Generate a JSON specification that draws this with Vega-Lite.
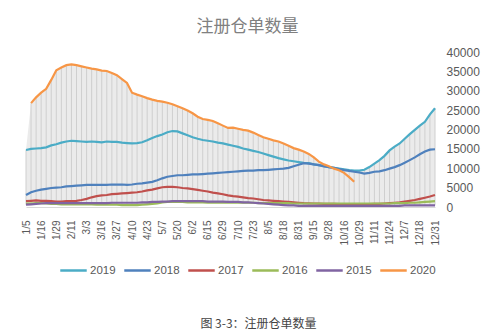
{
  "$schema": "https://vega.github.io/schema/vega-lite/v6.json",
  "width": 409,
  "height": 155,
  "autosize": {"type": "none"},
  "padding": {"left": 26, "top": 52, "right": 65, "bottom": 129},
  "background": "white",
  "config": {"view": {"stroke": null}, "axisY": {"labelOverlap": false}},
  "title": {"text": "注册仓单数量", "font": "Noto Sans CJK SC", "fontSize": 17, "fontWeight": "normal", "color": "#808080", "anchor": "middle", "dx": 17, "offset": 10},
  "data": {"values": [
    {"d":"1/5","2019":14700,"2018":3100,"2017":1500,"2016":900,"2015":600,"2020":null},
    {"d":"1/8","2019":15000,"2018":3800,"2017":1600,"2016":900,"2015":700,"2020":26800},
    {"d":"1/12","2019":15100,"2018":4200,"2017":1700,"2016":1000,"2015":800,"2020":28300},
    {"d":"1/16","2019":15200,"2018":4500,"2017":1600,"2016":1000,"2015":900,"2020":29500},
    {"d":"1/20","2019":15400,"2018":4700,"2017":1600,"2016":900,"2015":1000,"2020":30500},
    {"d":"1/24","2019":15900,"2018":4900,"2017":1500,"2016":800,"2015":1000,"2020":32800},
    {"d":"1/29","2019":16200,"2018":5000,"2017":1400,"2016":800,"2015":1000,"2020":35300},
    {"d":"2/2","2019":16600,"2018":5100,"2017":1400,"2016":700,"2015":1000,"2020":36000},
    {"d":"2/6","2019":16900,"2018":5300,"2017":1500,"2016":700,"2015":1000,"2020":36600},
    {"d":"2/11","2019":17100,"2018":5400,"2017":1500,"2016":700,"2015":1000,"2020":36800},
    {"d":"2/18","2019":17000,"2018":5500,"2017":1600,"2016":700,"2015":1000,"2020":36600},
    {"d":"2/25","2019":16900,"2018":5600,"2017":1800,"2016":700,"2015":1000,"2020":36300},
    {"d":"3/3","2019":16800,"2018":5700,"2017":2100,"2016":700,"2015":1000,"2020":36000},
    {"d":"3/7","2019":16900,"2018":5700,"2017":2500,"2016":700,"2015":1000,"2020":35700},
    {"d":"3/11","2019":16800,"2018":5700,"2017":2800,"2016":600,"2015":1000,"2020":35500},
    {"d":"3/16","2019":16700,"2018":5700,"2017":3000,"2016":600,"2015":1000,"2020":35200},
    {"d":"3/19","2019":16900,"2018":5700,"2017":3100,"2016":600,"2015":1000,"2020":35100},
    {"d":"3/23","2019":16800,"2018":5800,"2017":3300,"2016":600,"2015":1100,"2020":34600},
    {"d":"3/27","2019":16800,"2018":5800,"2017":3400,"2016":600,"2015":1100,"2020":34000},
    {"d":"3/31","2019":16600,"2018":5800,"2017":3500,"2016":500,"2015":1100,"2020":33000},
    {"d":"4/6","2019":16500,"2018":5700,"2017":3600,"2016":500,"2015":1100,"2020":32000},
    {"d":"4/10","2019":16400,"2018":5800,"2017":3700,"2016":500,"2015":1100,"2020":29500},
    {"d":"4/15","2019":16500,"2018":6000,"2017":3800,"2016":500,"2015":1100,"2020":29000},
    {"d":"4/19","2019":16700,"2018":6100,"2017":4000,"2016":600,"2015":1200,"2020":28600},
    {"d":"4/23","2019":17200,"2018":6300,"2017":4300,"2016":700,"2015":1200,"2020":28100},
    {"d":"4/27","2019":17800,"2018":6500,"2017":4500,"2016":800,"2015":1300,"2020":27700},
    {"d":"5/2","2019":18300,"2018":6900,"2017":4800,"2016":900,"2015":1300,"2020":27400},
    {"d":"5/7","2019":18700,"2018":7400,"2017":5100,"2016":1200,"2015":1400,"2020":27200},
    {"d":"5/11","2019":19300,"2018":7800,"2017":5200,"2016":1300,"2015":1400,"2020":26900},
    {"d":"5/15","2019":19600,"2018":8000,"2017":5200,"2016":1300,"2015":1500,"2020":26500},
    {"d":"5/20","2019":19500,"2018":8200,"2017":5100,"2016":1300,"2015":1500,"2020":26000},
    {"d":"5/24","2019":19000,"2018":8200,"2017":4900,"2016":1300,"2015":1500,"2020":25500},
    {"d":"5/28","2019":18500,"2018":8300,"2017":4800,"2016":1200,"2015":1500,"2020":24900},
    {"d":"6/2","2019":18000,"2018":8400,"2017":4600,"2016":1200,"2015":1500,"2020":24200},
    {"d":"6/6","2019":17600,"2018":8400,"2017":4400,"2016":1200,"2015":1500,"2020":23300},
    {"d":"6/10","2019":17300,"2018":8500,"2017":4200,"2016":1200,"2015":1500,"2020":22700},
    {"d":"6/15","2019":17100,"2018":8600,"2017":4000,"2016":1100,"2015":1400,"2020":22500},
    {"d":"6/20","2019":16900,"2018":8700,"2017":3700,"2016":1100,"2015":1400,"2020":22200},
    {"d":"6/24","2019":16600,"2018":8800,"2017":3500,"2016":1100,"2015":1400,"2020":21600},
    {"d":"6/29","2019":16400,"2018":8900,"2017":3300,"2016":1100,"2015":1400,"2020":21000},
    {"d":"7/2","2019":16100,"2018":9000,"2017":3000,"2016":1100,"2015":1300,"2020":20400},
    {"d":"7/6","2019":15800,"2018":9100,"2017":2800,"2016":1100,"2015":1300,"2020":20500},
    {"d":"7/10","2019":15500,"2018":9200,"2017":2700,"2016":1100,"2015":1300,"2020":20200},
    {"d":"7/14","2019":15100,"2018":9300,"2017":2500,"2016":1100,"2015":1200,"2020":19900},
    {"d":"7/18","2019":14800,"2018":9400,"2017":2300,"2016":1100,"2015":1200,"2020":19700},
    {"d":"7/23","2019":14500,"2018":9400,"2017":2200,"2016":1100,"2015":1100,"2020":19200},
    {"d":"7/27","2019":14200,"2018":9500,"2017":2000,"2016":1000,"2015":1000,"2020":18600},
    {"d":"7/31","2019":13800,"2018":9500,"2017":1800,"2016":1000,"2015":900,"2020":18000},
    {"d":"8/5","2019":13400,"2018":9600,"2017":1700,"2016":1000,"2015":800,"2020":17600},
    {"d":"8/9","2019":13000,"2018":9700,"2017":1600,"2016":1000,"2015":700,"2020":17200},
    {"d":"8/13","2019":12600,"2018":9800,"2017":1500,"2016":1000,"2015":600,"2020":16900},
    {"d":"8/18","2019":12300,"2018":9900,"2017":1400,"2016":1000,"2015":500,"2020":16400},
    {"d":"8/22","2019":12000,"2018":10100,"2017":1300,"2016":1000,"2015":400,"2020":15800},
    {"d":"8/26","2019":11800,"2018":10500,"2017":1200,"2016":900,"2015":400,"2020":15200},
    {"d":"8/31","2019":11600,"2018":10900,"2017":1100,"2016":900,"2015":300,"2020":14800},
    {"d":"9/5","2019":11400,"2018":11300,"2017":1000,"2016":900,"2015":300,"2020":14300},
    {"d":"9/10","2019":11300,"2018":11200,"2017":950,"2016":900,"2015":300,"2020":13700},
    {"d":"9/15","2019":11000,"2018":11000,"2017":900,"2016":900,"2015":300,"2020":12800},
    {"d":"9/19","2019":10800,"2018":10800,"2017":850,"2016":900,"2015":300,"2020":11700},
    {"d":"9/23","2019":10600,"2018":10500,"2017":800,"2016":900,"2015":300,"2020":11000},
    {"d":"9/28","2019":10300,"2018":10300,"2017":800,"2016":900,"2015":300,"2020":10500},
    {"d":"10/8","2019":10100,"2018":10100,"2017":800,"2016":900,"2015":300,"2020":9900},
    {"d":"10/12","2019":9900,"2018":9800,"2017":750,"2016":900,"2015":300,"2020":9500},
    {"d":"10/16","2019":9700,"2018":9500,"2017":700,"2016":900,"2015":300,"2020":8800},
    {"d":"10/20","2019":9500,"2018":9300,"2017":700,"2016":900,"2015":300,"2020":7700},
    {"d":"10/24","2019":9400,"2018":9100,"2017":700,"2016":900,"2015":300,"2020":6500},
    {"d":"10/29","2019":9400,"2018":8900,"2017":700,"2016":900,"2015":300,"2020":null},
    {"d":"11/2","2019":9600,"2018":8600,"2017":700,"2016":900,"2015":300,"2020":null},
    {"d":"11/6","2019":10300,"2018":8800,"2017":750,"2016":900,"2015":300,"2020":null},
    {"d":"11/11","2019":11200,"2018":9100,"2017":800,"2016":900,"2015":300,"2020":null},
    {"d":"11/15","2019":12100,"2018":9200,"2017":800,"2016":900,"2015":300,"2020":null},
    {"d":"11/19","2019":13200,"2018":9500,"2017":900,"2016":900,"2015":300,"2020":null},
    {"d":"11/24","2019":14600,"2018":9900,"2017":1000,"2016":900,"2015":300,"2020":null},
    {"d":"11/28","2019":15600,"2018":10300,"2017":1100,"2016":1000,"2015":300,"2020":null},
    {"d":"12/2","2019":16400,"2018":10800,"2017":1200,"2016":1000,"2015":300,"2020":null},
    {"d":"12/7","2019":17600,"2018":11400,"2017":1400,"2016":1000,"2015":400,"2020":null},
    {"d":"12/11","2019":18800,"2018":12100,"2017":1600,"2016":1100,"2015":400,"2020":null},
    {"d":"12/14","2019":19900,"2018":12800,"2017":1800,"2016":1100,"2015":400,"2020":null},
    {"d":"12/18","2019":21000,"2018":13600,"2017":2100,"2016":1200,"2015":400,"2020":null},
    {"d":"12/22","2019":22000,"2018":14300,"2017":2400,"2016":1300,"2015":400,"2020":null},
    {"d":"12/26","2019":23900,"2018":14800,"2017":2700,"2016":1400,"2015":400,"2020":null},
    {"d":"12/31","2019":25500,"2018":14900,"2017":3100,"2016":1500,"2015":400,"2020":null}
  ]},
  "transform": [{"fold": ["2019", "2018", "2017", "2016", "2015", "2020"], "as": ["series", "value"]}],
  "encoding": {
    "x": {
      "field": "d", "type": "ordinal", "sort": null,
      "scale": {"type": "point", "padding": 0},
      "axis": {
        "values": ["1/5","1/16","1/29","2/11","3/3","3/16","3/27","4/10","4/23","5/7","5/20","6/2","6/15","6/29","7/10","7/23","8/5","8/18","8/31","9/15","9/28","10/16","10/29","11/11","11/24","12/7","12/18","12/31"],
        "labelAngle": -90, "labelAlign": "right", "labelBaseline": "middle", "labelPadding": 13,
        "labelFontSize": 10, "labelFont": "Liberation Sans", "labelColor": "#595959", "labelOverlap": false,
        "ticks": false, "domain": true, "domainColor": "#d9d9d9", "grid": false,
        "title": "图 3-3：注册仓单数量", "titleFont": "Noto Sans CJK SC", "titleFontSize": 12, "titleFontWeight": "normal",
        "titleColor": "#444444", "titleX": 232, "titleY": 111, "titleAlign": "center", "titleBaseline": "top"
      }
    }
  },
  "layer": [
    {
      "transform": [
        {"joinaggregate": [{"op": "min", "field": "value", "as": "lo"}, {"op": "max", "field": "value", "as": "hi"}], "groupby": ["d"]},
        {"filter": "datum.series === '2019'"}
      ],
      "mark": {"type": "area", "color": "#ebebeb"},
      "encoding": {
        "y": {
          "field": "lo", "type": "quantitative", "title": null,
          "scale": {"domain": [0, 40000], "nice": false},
          "axis": {"orient": "right", "values": [0,5000,10000,15000,20000,25000,30000,35000,40000], "format": "d", "labelOverlap": false, "labelFontSize": 12, "labelFont": "Liberation Sans", "labelColor": "#595959", "labelPadding": 11, "ticks": false, "domain": false, "grid": false, "title": null}
        },
        "y2": {"field": "hi"}
      }
    },
    {
      "transform": [
        {"joinaggregate": [{"op": "min", "field": "value", "as": "lo"}, {"op": "max", "field": "value", "as": "hi"}], "groupby": ["d"]},
        {"filter": "datum.series === '2019'"}
      ],
      "mark": {"type": "rule", "color": "#cfcfcf", "strokeWidth": 1},
      "encoding": {
        "y": {
          "field": "lo", "type": "quantitative", "title": null,
          "scale": {"domain": [0, 40000], "nice": false},
          "axis": {"orient": "right", "values": [0,5000,10000,15000,20000,25000,30000,35000,40000], "format": "d", "labelOverlap": false, "labelFontSize": 12, "labelFont": "Liberation Sans", "labelColor": "#595959", "labelPadding": 11, "ticks": false, "domain": false, "grid": false, "title": null}
        },
        "y2": {"field": "hi"}
      }
    },
    {
      "mark": {"type": "line", "strokeWidth": 2.2},
      "encoding": {
        "y": {
          "field": "value", "type": "quantitative", "title": null,
          "scale": {"domain": [0, 40000], "nice": false},
          "axis": {"orient": "right", "values": [0,5000,10000,15000,20000,25000,30000,35000,40000], "format": "d", "labelOverlap": false, "labelFontSize": 12, "labelFont": "Liberation Sans", "labelColor": "#595959", "labelPadding": 11, "ticks": false, "domain": false, "grid": false, "title": null}
        },
        "color": {
          "field": "series", "type": "nominal",
          "scale": {"domain": ["2019", "2018", "2017", "2016", "2015", "2020"], "range": ["#4BACC6", "#4F81BD", "#C0504D", "#9BBB59", "#8064A2", "#F79646"]},
          "legend": {"orient": "none", "legendX": 33, "legendY": 204, "direction": "horizontal", "title": null, "symbolType": "stroke", "symbolSize": 700, "symbolStrokeWidth": 2.5, "labelFontSize": 11.5, "labelFont": "Liberation Sans", "labelColor": "#595959", "columnPadding": 3, "labelOffset": 2}
        }
      }
    }
  ]
}
